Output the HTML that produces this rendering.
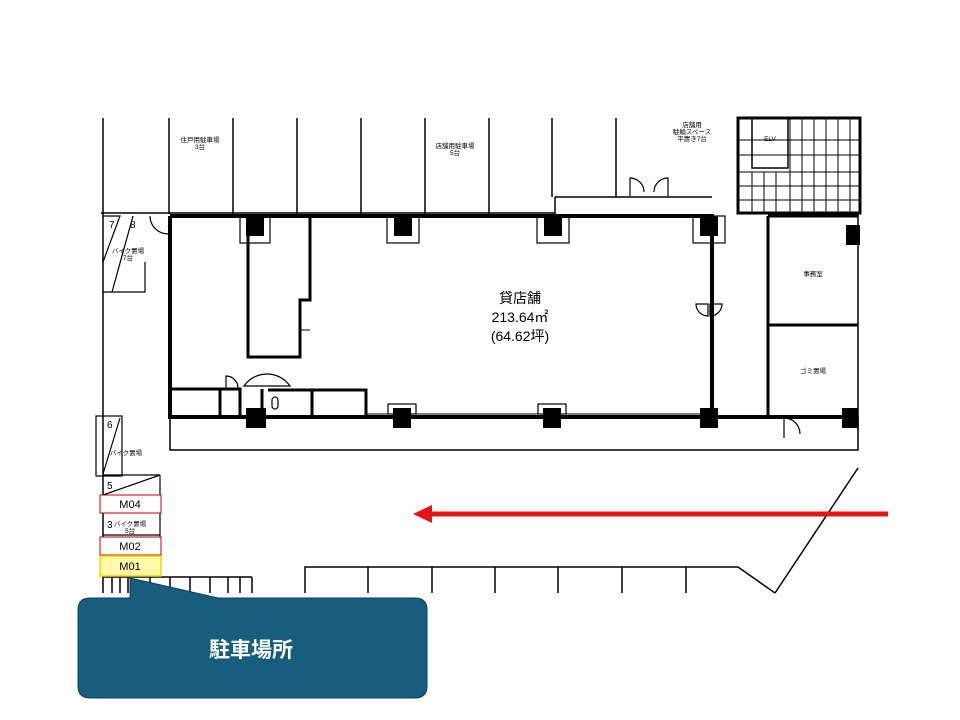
<!DOCTYPE html>
<html><head><meta charset="utf-8"><style>
html,body{margin:0;padding:0;background:#fff;width:960px;height:720px;overflow:hidden}
svg{display:block}
text{font-family:"Liberation Sans","Noto Sans CJK JP",sans-serif}
</style></head><body>
<svg width="960" height="720" viewBox="0 0 960 720" xmlns="http://www.w3.org/2000/svg">
<g stroke="#000" fill="none">
 <!-- top parking dividers -->
 <g stroke-width="1.5">
  <line x1="103" y1="118" x2="103" y2="593"/>
  <line x1="169" y1="118" x2="169" y2="214"/>
  <line x1="233" y1="118" x2="233" y2="214"/>
  <line x1="297" y1="118" x2="297" y2="214"/>
  <line x1="361" y1="118" x2="361" y2="214"/>
  <line x1="425" y1="118" x2="425" y2="214"/>
  <line x1="489" y1="118" x2="489" y2="214"/>
  <line x1="552" y1="118" x2="552" y2="197"/>
  <line x1="616" y1="118" x2="616" y2="197"/>
  <line x1="101" y1="213" x2="555" y2="213"/>
  <line x1="555" y1="197" x2="712" y2="197"/>
  <line x1="555" y1="197" x2="555" y2="216"/>
  <line x1="738" y1="118" x2="738" y2="200"/>
 </g>
 <!-- door at top -->
 <path d="M630 196 V178 A14 14 0 0 1 644 192 M668 196 V178 A14 14 0 0 0 654 192" stroke-width="1.2"/>
 <!-- grid area -->
 <rect x="738" y="118" width="122" height="95" stroke-width="3"/>
 <rect x="752" y="118" width="36" height="50" stroke-width="1.5"/>
 <g stroke-width="1">
  <line x1="738" y1="140" x2="860" y2="140"/><line x1="738" y1="155" x2="860" y2="155"/>
  <line x1="738" y1="172" x2="860" y2="172"/><line x1="738" y1="186" x2="860" y2="186"/>
  <line x1="738" y1="200" x2="860" y2="200"/>
  <line x1="790" y1="118" x2="790" y2="213"/><line x1="802" y1="118" x2="802" y2="213"/>
  <line x1="814" y1="118" x2="814" y2="213"/><line x1="826" y1="118" x2="826" y2="213"/>
  <line x1="838" y1="118" x2="838" y2="213"/><line x1="850" y1="118" x2="850" y2="213"/>
  <line x1="752" y1="172" x2="752" y2="213"/><line x1="764" y1="172" x2="764" y2="213"/>
  <line x1="776" y1="172" x2="776" y2="213"/>
 </g>
 <!-- building outer -->
 <path d="M170 216 H556 M556 216 H712 V417 M170 216 V417 H858" stroke-width="4"/>
 <line x1="768" y1="216" x2="768" y2="417" stroke-width="3"/>
 <line x1="768" y1="216" x2="858" y2="216" stroke-width="3"/>
 <line x1="768" y1="325" x2="858" y2="325" stroke-width="3"/>
 <line x1="858" y1="213" x2="858" y2="430" stroke-width="1.5"/>
 <!-- door on wall -->
 <path d="M696 304 A12 12 0 0 0 708 316 V304 Z M722 304 A12 12 0 0 1 710 316 V304 Z" stroke-width="1.2"/>
 <!-- lower strip -->
 <rect x="170" y="417" width="688" height="33" stroke-width="1.5"/>
 <path d="M784 418 V438 M784 418 A16 16 0 0 1 800 434" stroke-width="1.2"/>
 <!-- inner room -->
 <path d="M248 218 V357 H300 V300 H310 V218" stroke-width="3"/>
 <line x1="300" y1="330" x2="310" y2="330" stroke-width="1"/>
 <!-- bottom rooms -->
 <path d="M170 389 H220 V417 M220 389 H240 V417 M262 389 V417 M268 390 H366 V417 M312 390 V417" stroke-width="3"/>
 <path d="M244 386 A28 28 0 0 1 290 386 Z" stroke-width="1.2"/>
 <path d="M226 389 V376 A12 12 0 0 1 238 388" stroke-width="1.2"/>
 <rect x="272" y="397" width="6" height="12" rx="3" stroke-width="1.2"/>
 <!-- columns -->
 <g fill="#000" stroke="none">
  <rect x="246" y="216" width="18" height="20"/><rect x="394" y="216" width="18" height="20"/>
  <rect x="544" y="216" width="18" height="20"/><rect x="700" y="216" width="18" height="20"/>
  <rect x="846" y="225" width="14" height="20"/>
  <rect x="246" y="408" width="20" height="20"/><rect x="393" y="408" width="18" height="20"/>
  <rect x="543" y="408" width="18" height="20"/><rect x="700" y="408" width="18" height="20"/>
  <rect x="842" y="408" width="16" height="20"/>
 </g>
 <g stroke-width="1.2">
  <rect x="240" y="216" width="30" height="27"/><rect x="387" y="216" width="32" height="27"/>
  <rect x="537" y="216" width="32" height="27"/><rect x="693" y="216" width="32" height="27"/>
  <rect x="388" y="404" width="28" height="10"/><rect x="538" y="404" width="28" height="10"/>
 </g>
 <line x1="366" y1="414" x2="700" y2="414" stroke-width="1"/>
 <!-- left bike area -->
 <g stroke-width="1.2">
  <path d="M103 216 H120 L103 262 M133 216 L112 292 M103 292 H145 V262"/>
  <path d="M150 216 A18 18 0 0 0 168 234"/>
  <rect x="96" y="416" width="26" height="60"/>
  <line x1="120" y1="418" x2="103" y2="474"/>
  <path d="M103 475 H160 L103 495"/>
  <line x1="160" y1="475" x2="160" y2="560"/>
  <line x1="103" y1="535" x2="160" y2="535"/>
 </g>
 <!-- bottom parking -->
 <g stroke-width="1.5">
  <path d="M305 593 V567 H738 L775 593 M775 593 L858 468"/>
  <line x1="368" y1="567" x2="368" y2="593"/><line x1="432" y1="567" x2="432" y2="593"/>
  <line x1="495" y1="567" x2="495" y2="593"/><line x1="558" y1="567" x2="558" y2="593"/>
  <line x1="622" y1="567" x2="622" y2="593"/><line x1="686" y1="567" x2="686" y2="593"/>
  <path d="M103 577 H252 M112 577 V593 M120 577 V593 M128 577 V593 M150 577 V593 M170 577 V593 M190 577 V593 M210 577 V593 M228 577 V593 M240 577 V593 M252 577 V593"/>
 </g>
</g>
<!-- labels -->
<g fill="#000" font-size="6.5" text-anchor="middle">
 <text x="200" y="142">住戸用駐車場</text><text x="200" y="149">3台</text>
 <text x="455" y="148">店舗用駐車場</text><text x="455" y="155">5台</text>
 <text x="692" y="127">店舗用</text><text x="692" y="134">駐輪スペース</text><text x="692" y="141">平置き7台</text>
 <text x="770" y="141">ELV</text>
 <text x="813" y="276">事務室</text><text x="813" y="373">ゴミ置場</text>
 <text x="128" y="253">バイク置場</text><text x="128" y="260">7台</text>
 <text x="126" y="455">バイク置場</text>
 <text x="130" y="526">バイク置場</text><text x="130" y="533">5台</text>
</g>
<g font-size="10" fill="#000">
 <text x="109" y="228">7</text><text x="130" y="228">8</text>
 <text x="107" y="428">6</text><text x="107" y="489">5</text><text x="107" y="528">3</text>
</g>
<g fill="#000" font-size="14" text-anchor="middle">
 <text x="520" y="303">貸店舗</text>
 <text x="520" y="322">213.64㎡</text>
 <text x="520" y="341">(64.62坪)</text>
</g>
<!-- M labels -->
<rect x="100" y="495" width="61" height="18" fill="#fff" stroke="#c00000" stroke-width="1"/>
<text x="130" y="508" font-family="Liberation Mono" font-size="11" text-anchor="middle">M04</text>
<rect x="100" y="537" width="61" height="18" fill="#fff" stroke="#c00000" stroke-width="1"/>
<text x="130" y="550" font-family="Liberation Mono" font-size="11" text-anchor="middle">M02</text>
<rect x="100" y="556" width="61" height="20" fill="#fff8a8" stroke="#f0d800" stroke-width="1.5"/>
<text x="130" y="570" font-family="Liberation Mono" font-size="11" text-anchor="middle">M01</text>
<!-- red arrow -->
<line x1="430" y1="514" x2="888" y2="514" stroke="#e41414" stroke-width="5"/>
<polygon points="413,514 432,505 432,523" fill="#e41414"/>
<!-- callout -->
<path d="M90 598 H130 L130 578 L218 598 H415 Q427 598 427 610 V686 Q427 698 415 698 H90 Q78 698 78 686 V610 Q78 598 90 598 Z" fill="#175d7d" stroke="#0e3d55" stroke-width="1"/>
<text x="251" y="657" font-size="21" font-weight="bold" fill="#fff" text-anchor="middle" font-family="Liberation Sans,'Noto Sans CJK JP',sans-serif">駐車場所</text>
</svg>
</body></html>
